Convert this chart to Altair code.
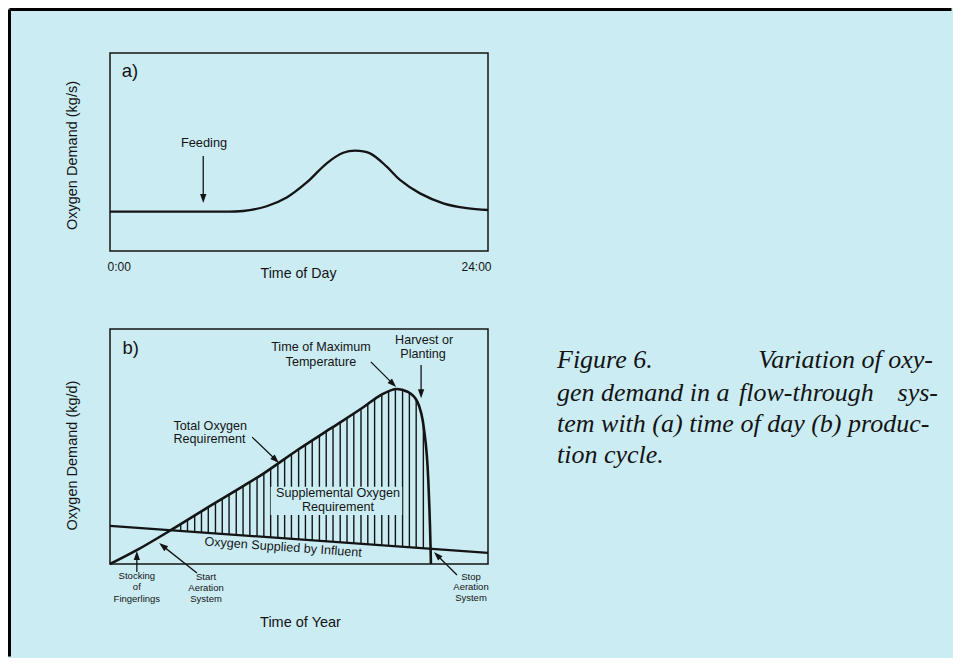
import math
import altair as alt
import pandas as pd

BG = "#CBECF3"
INK = "#141414"
SANS = "Liberation Sans"
SERIF = "Liberation Serif"

# ---------------- panel a: oxygen demand over a day ----------------
day_hours = [0, 5.92, 8.46, 9.95, 11.22, 12.49, 13.76, 14.81, 15.56, 16.51,
             17.57, 18.41, 19.68, 21.16, 22.65, 24]
day_demand = [19.9, 19.9, 20.2, 22.6, 27.0, 34.6, 44.3, 49.6, 50.7, 49.3,
              42.6, 35.9, 29.1, 24.1, 21.6, 20.7]
day_ticks = [0, 24]
day_tick_labels = ["0:00", "24:00"]
a_texts = ["a)", "Feeding"]
a_text_x = [0.74, 5.97]
a_text_y = [91.0, 54.5]
a_arrows = [(5.92, 48.0, 5.92, 24.2)]          # tail x, tail y, tip x, tip y

# ---------------- panel b: oxygen demand over the production cycle ----------------
year_t = [0, 7.2, 16.5, 26.2, 35.0, 40.7, 49.6, 58.4, 67.2, 71.6, 75.9, 78.7,
          81.3, 83.1, 84.2, 84.8, 84.9]
total_req = [0, 6.0, 14.8, 24.4, 32.9, 38.6, 48.5, 57.7, 66.9, 71.9, 74.5, 73.3,
             69.1, 57.0, 35.7, 7.4, 0]
influent_t = [0, 100]
influent_o2 = [16.2, 4.7]
hatch_t = [18.7, 20.5, 22.4, 24.2, 26.0, 27.9, 29.7, 31.5, 33.4, 35.2, 37.0, 38.9,
           40.7, 42.5, 44.4, 46.2, 48.0, 49.9, 51.7, 53.5, 55.4, 57.2, 59.0, 60.9,
           62.7, 64.5, 66.4, 68.2, 70.0, 71.9, 73.7, 75.5, 77.4, 79.2, 81.0, 82.9]
supp_box = [42.5, 77.3, 20.9, 32.9]            # x0, x1, y0, y1

b_mid_texts = ["Time of Maximum", "Temperature", "Harvest or", "Planting",
               "Supplemental Oxygen", "Requirement"]
b_mid_x = [55.8, 55.8, 83.1, 82.8, 60.3, 60.3]
b_mid_y = [92.3, 86.0, 95.3, 89.4, 30.2, 24.3]
b_left_texts = ["Total Oxygen", "Requirement"]
b_left_x = [16.8, 16.8]
b_left_y = [58.7, 53.2]
b_small_texts = ["Stocking", "of", "Fingerlings", "Start", "Aeration", "System",
                 "Stop", "Aeration", "System"]
b_small_x = [7.1, 7.1, 7.1, 25.4, 25.4, 25.4, 95.5, 95.5, 95.5]
b_small_y = [-5.1, -9.8, -14.9, -5.5, -10.2, -14.9, -5.5, -9.8, -14.5]
b_arrows = [(7.1, -3.4, 7.1, 5.5),
            (23.0, -3.8, 13.0, 8.9),
            (91.8, -4.7, 85.7, 5.1),
            (37.6, 54.0, 44.7, 43.0),
            (69.0, 86.0, 75.7, 75.3),
            (82.3, 84.7, 82.3, 70.5)]

caption = ["Figure 6.", "Variation of oxy-", "gen demand in a", "flow-through",
           "sys-", "tem with (a) time of day (b) produc-", "tion cycle."]

# ---------------- layout ----------------
A_W, A_H = 378, 198
B_W, B_H = 378, 235
A_XD, B_XD, YD = [0, 24], [0, 100], [0, 100]
HEAD = 81
CHART_W, CHART_H = 945, 650


def X(dom, axis):
    return alt.X("x:Q", scale=alt.Scale(domain=dom, nice=False, zero=False), axis=axis)


def Y(axis):
    return alt.Y("y:Q", scale=alt.Scale(domain=YD, nice=False, zero=False), axis=axis)


def arrows_layers(arrows, dom, w, h, axx, axy):
    sx = w / (dom[1] - dom[0])
    sy = h / (YD[1] - YD[0])
    half = math.sqrt(HEAD) / 2
    lines, heads = [], []
    for tx, ty, hx, hy in arrows:
        dx = (hx - tx) * sx
        dy = -(hy - ty) * sy
        L = math.hypot(dx, dy)
        ux, uy = dx / L, dy / L
        cx = hx - half * ux / sx
        cy = hy + half * uy / sy
        ang = math.degrees(math.atan2(dx, -dy)) % 360
        lines.append(dict(x=tx, y=ty, x2=cx, y2=cy))
        heads.append(dict(x=cx, y=cy, ang=ang))
    rule = alt.Chart(pd.DataFrame(lines)).mark_rule(color=INK, strokeWidth=1.3).encode(
        x=X(dom, axx), y=Y(axy), x2="x2:Q", y2="y2:Q")
    head = alt.Chart(pd.DataFrame(heads)).mark_point(
        shape="M0,-1L-0.7,1L0.7,1Z", filled=True, size=HEAD, color=INK,
        opacity=1, strokeWidth=0).encode(
        x=X(dom, axx), y=Y(axy), angle=alt.Angle("ang:Q", scale=None))
    return [rule, head]


def texts(labels, xs, ys, dom, axx, axy, size, align="center", angle=0):
    df = pd.DataFrame({"x": xs, "y": ys, "t": labels})
    return alt.Chart(df).mark_text(fontSize=size, align=align, baseline="middle",
                                   font=SANS, color=INK, angle=angle).encode(
        x=X(dom, axx), y=Y(axy), text="t:N")


def frame():
    return alt.Chart(pd.DataFrame({"k": [0]})).mark_rect(
        fillOpacity=0, stroke=INK, strokeWidth=1.5).encode(
        x=alt.value(0), x2=alt.value("width"), y=alt.value(0), y2=alt.value("height"))


# ---------------- panel a ----------------
label_expr = (f"datum.value == {day_ticks[0]} ? '{day_tick_labels[0]}' : "
              f"'{day_tick_labels[1]}'")
ax_a_x = alt.Axis(values=day_ticks, labelExpr=label_expr, labelFlush=True,
                  labelFlushOffset=3, ticks=False, tickSize=0, domain=False, grid=False,
                  labelPadding=15, labelBaseline="middle", labelFontSize=12,
                  title="Time of Day", titleX=188, titleY=22, titleBaseline="middle",
                  titleAlign="center", titleFontSize=14.2)
ax_a_y = alt.Axis(labels=False, ticks=False, domain=False, grid=False,
                  title="Oxygen Demand (kg/s)", titleX=-38, titleY=102, titleAngle=270,
                  titleAlign="center", titleBaseline="middle", titleFontSize=14.5)

day_df = pd.DataFrame({"x": day_hours, "y": day_demand})
curve_a = alt.Chart(day_df).mark_line(color=INK, strokeWidth=2.3, interpolate="catmull-rom").encode(
    x=X(A_XD, ax_a_x), y=Y(ax_a_y))

one = pd.DataFrame({"k": [0]})
page_top = alt.Chart(one).mark_rule(color="#000000", strokeWidth=3).encode(
    x=alt.value(-100.5), x2=alt.value(CHART_W - 102 - 1.5), y=alt.value(-43.5))
page_left = alt.Chart(one).mark_rule(color="#000000", strokeWidth=3).encode(
    x=alt.value(-100.5), y=alt.value(-43.5), y2=alt.value(CHART_H - 45 - 1.5))

panel_a = alt.layer(
    curve_a,
    *arrows_layers(a_arrows, A_XD, A_W, A_H, ax_a_x, ax_a_y),
    texts(a_texts[:1], a_text_x[:1], a_text_y[:1], A_XD, ax_a_x, ax_a_y, 18.5, align="left"),
    texts(a_texts[1:], a_text_x[1:], a_text_y[1:], A_XD, ax_a_x, ax_a_y, 12.8),
    frame(),
    page_top,
    page_left,
).properties(width=A_W, height=A_H)

# ---------------- panel b ----------------
ax_b_x = alt.Axis(labels=False, ticks=False, domain=False, grid=False,
                  title="Time of Year", titleX=190, titleY=58, titleBaseline="middle",
                  titleAlign="center", titleFontSize=14.5)
ax_b_y = alt.Axis(labels=False, ticks=False, domain=False, grid=False,
                  title="Oxygen Demand (kg/d)", titleX=-38, titleY=126, titleAngle=270,
                  titleAlign="center", titleBaseline="middle", titleFontSize=14.5)

hatch_df = pd.DataFrame({"x": hatch_t, "y": [YD[0]] * len(hatch_t), "y1": [YD[1]] * len(hatch_t)})
hatch = alt.Chart(hatch_df).mark_rule(color=INK, strokeWidth=1.4).encode(
    x=X(B_XD, ax_b_x), y=Y(ax_b_y), y2="y1:Q")

total_df = pd.DataFrame({"x": year_t, "y": total_req, "top": [YD[1]] * len(year_t)})
mask_top = alt.Chart(total_df).mark_area(color=BG, opacity=1, interpolate="monotone").encode(
    x=X(B_XD, ax_b_x), y=Y(ax_b_y), y2="top:Q")

infl_df = pd.DataFrame({"x": influent_t, "y": influent_o2, "bot": [YD[0]] * len(influent_t)})
mask_bot = alt.Chart(infl_df).mark_area(color=BG, opacity=1).encode(
    x=X(B_XD, ax_b_x), y=Y(ax_b_y), y2="bot:Q")

box_df = pd.DataFrame({"x": [supp_box[0]], "x2": [supp_box[1]],
                       "y": [supp_box[2]], "y2": [supp_box[3]]})
box = alt.Chart(box_df).mark_rect(color=BG, opacity=1).encode(
    x=X(B_XD, ax_b_x), x2="x2:Q", y=Y(ax_b_y), y2="y2:Q")

curve_b = alt.Chart(total_df).mark_line(color=INK, strokeWidth=2.6, interpolate="monotone").encode(
    x=X(B_XD, ax_b_x), y=Y(ax_b_y))
infl_line = alt.Chart(infl_df).mark_line(color=INK, strokeWidth=2.2).encode(
    x=X(B_XD, ax_b_x), y=Y(ax_b_y))

infl_angle = math.degrees(math.atan((influent_o2[0] - influent_o2[1]) * (B_H / 100)
                                    / ((influent_t[1] - influent_t[0]) * (B_W / 100))))


def cap(text, x, y, align):
    return alt.Chart(pd.DataFrame({"t": [text]})).mark_text(
        font=SERIF, fontStyle="italic", fontSize=26, align=align, baseline="alphabetic",
        color=INK).encode(x=alt.value(x), y=alt.value(y), text="t:N")


bx, by = ax_b_x, ax_b_y
panel_b = alt.layer(
    hatch, mask_top, mask_bot, box, curve_b, infl_line,
    *arrows_layers(b_arrows, B_XD, B_W, B_H, bx, by),
    texts(["b)"], [3.3], [91.9], B_XD, bx, by, 18.5, align="left"),
    texts(b_mid_texts, b_mid_x, b_mid_y, B_XD, bx, by, 12.6),
    texts(b_left_texts, b_left_x, b_left_y, B_XD, bx, by, 12.6, align="left"),
    texts(["Oxygen Supplied by Influent"], [45.8], [7.2], B_XD, bx, by, 12.6, angle=infl_angle),
    texts(b_small_texts, b_small_x, b_small_y, B_XD, bx, by, 9.5),
    frame(),
    cap(caption[0], 447, 39.3, "left"),
    cap(caption[1], 823, 39.3, "right"),
    cap(caption[2], 447, 72, "left"),
    cap(caption[3], 629, 72, "left"),
    cap(caption[4], 828, 72, "right"),
    cap(caption[5], 447, 102.7, "left"),
    cap(caption[6], 447, 133.7, "left"),
).properties(width=B_W, height=B_H)

chart = alt.vconcat(panel_a, panel_b, spacing=78, bounds="flush").properties(
    padding=0, background=BG
).configure_view(strokeWidth=0).configure_axis(
    labelFont=SANS, titleFont=SANS, titleFontWeight="normal",
    labelColor=INK, titleColor=INK, grid=False
)

chart.save("out.html", embed_options={"renderer": "svg", "actions": False})
